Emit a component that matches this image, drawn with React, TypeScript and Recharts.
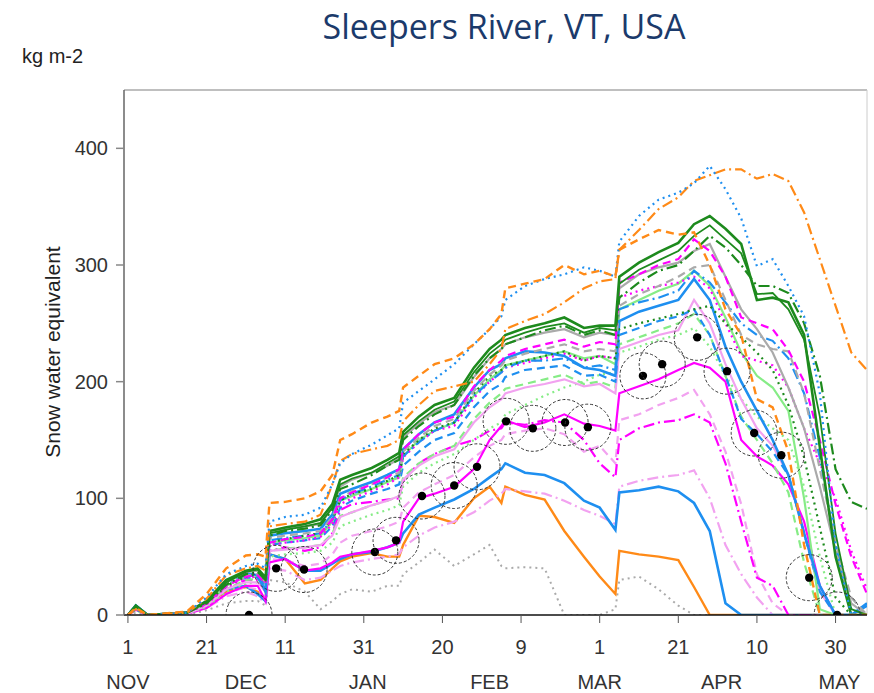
import { ComposedChart, Line, Scatter, XAxis, YAxis, ReferenceLine } from 'recharts'

// days since 1 Nov at which each series is sampled
const DAYS = [0, 2, 5, 15, 20, 25, 30, 33, 35, 36, 40, 45, 49, 52, 54, 57, 62, 66, 69, 70, 74, 78, 83, 88, 92, 95, 96, 101, 106, 111, 116, 120, 124, 125, 130, 135, 140, 144, 148, 152, 156, 160, 164, 168, 172, 176, 180, 184, 188]

const orangeDashed = [0, 6, 0, 3, 18, 40, 51, 52, 50, 96, 97, 100, 106, 120, 150, 155, 165, 170, 175, 195, 205, 215, 220, 232, 245, 258, 280, 284, 288, 300, 292, 295, 290, 313, 322, 330, 326, 328, 300, 262, 240, 185, 178, 140, 60, 0, 0, 0, 0]
const blueDotted = [0, 5, 0, 2, 15, 35, 42, 44, 40, 80, 84, 86, 92, 112, 130, 138, 146, 154, 160, 182, 192, 202, 215, 232, 245, 256, 270, 282, 288, 292, 298, 295, 290, 320, 342, 356, 362, 370, 385, 365, 340, 299, 305, 282, 256, 190, 60, 0, 0]
const orangeDashDot = [0, 5, 0, 2, 14, 34, 40, 42, 38, 76, 78, 80, 86, 112, 132, 138, 142, 145, 150, 166, 180, 192, 196, 200, 215, 228, 245, 252, 258, 268, 280, 286, 288, 313, 330, 348, 358, 372, 377, 382, 382, 374, 378, 372, 345, 305, 265, 225, 210]
const green1 = [0, 8, 0, 2, 12, 30, 38, 40, 32, 72, 75, 78, 82, 95, 116, 120, 126, 133, 139, 157, 170, 180, 186, 212, 228, 236, 240, 246, 250, 255, 246, 248, 248, 290, 302, 311, 319, 335, 342, 331, 318, 270, 272, 268, 240, 144, 50, 0, 0]
const green2 = [0, 7, 0, 2, 11, 28, 37, 39, 30, 70, 73, 76, 79, 92, 112, 117, 122, 130, 136, 154, 166, 176, 183, 208, 224, 232, 236, 242, 247, 250, 242, 246, 244, 284, 296, 304, 312, 325, 334, 322, 310, 275, 276, 262, 236, 170, 70, 5, 0]
const greenDashDot = [0, 6, 0, 2, 10, 26, 35, 37, 30, 68, 72, 74, 77, 90, 108, 112, 120, 128, 133, 150, 162, 172, 180, 205, 220, 228, 232, 238, 244, 248, 240, 244, 240, 272, 285, 295, 300, 312, 325, 315, 300, 282, 282, 276, 250, 205, 125, 97, 91]
const greenDotted = [0, 5, 0, 2, 10, 25, 33, 35, 28, 62, 65, 68, 70, 82, 98, 104, 108, 115, 120, 138, 150, 160, 165, 190, 205, 210, 214, 218, 222, 226, 218, 222, 220, 245, 250, 254, 258, 262, 265, 250, 238, 225, 210, 180, 135, 75, 15, 0, 0]
const graySolid = [0, 6, 0, 2, 11, 28, 37, 38, 30, 72, 74, 76, 78, 92, 110, 116, 122, 128, 134, 152, 164, 174, 180, 204, 220, 228, 232, 238, 242, 245, 238, 242, 240, 280, 292, 298, 302, 312, 318, 290, 262, 245, 225, 195, 160, 110, 55, 10, 0]
const grayDashed = [0, 5, 0, 2, 10, 25, 34, 35, 28, 66, 68, 70, 72, 84, 100, 106, 112, 118, 122, 140, 152, 162, 168, 192, 206, 214, 218, 224, 228, 232, 226, 228, 226, 265, 275, 282, 290, 298, 300, 270, 240, 232, 228, 226, 190, 125, 62, 15, 0]
const grayDotted = [0, 2, 0, 0, 4, 10, 12, 12, 8, 30, 28, 20, 5, 12, 18, 22, 20, 25, 25, 35, 45, 56, 42, 52, 60, 42, 40, 41, 40, 0, 0, 0, 5, 30, 33, 22, 8, 0, 0, 0, 0, 0, 0, 0, 0, 0, 0, 0, 0]
const magentaDashed = [0, 5, 0, 2, 10, 25, 33, 34, 27, 62, 65, 67, 70, 82, 100, 105, 112, 118, 125, 142, 155, 165, 170, 196, 210, 218, 222, 228, 232, 236, 230, 234, 232, 285, 292, 300, 305, 322, 312, 290, 255, 250, 245, 227, 200, 150, 95, 50, 18]
const magentaSolid = [0, 5, 0, 1, 6, 18, 25, 25, 12, 45, 48, 38, 40, 45, 50, 52, 55, 58, 62, 80, 100, 104, 110, 125, 150, 162, 167, 161, 165, 172, 164, 162, 158, 190, 196, 202, 210, 216, 212, 200, 150, 136, 128, 112, 80, 25, 0, 0, 0]
const magentaDashDot = [0, 5, 0, 1, 8, 22, 30, 30, 20, 55, 58, 55, 58, 70, 90, 95, 97, 99, 100, 115, 130, 138, 145, 150, 158, 160, 165, 163, 167, 165, 150, 130, 118, 150, 160, 165, 167, 172, 165, 130, 80, 32, 25, 0, 0, 0, 0, 0, 0]
const magentaDotted = [0, 5, 0, 2, 9, 24, 32, 33, 26, 60, 62, 64, 67, 78, 95, 100, 106, 112, 118, 135, 148, 158, 162, 186, 200, 208, 212, 216, 220, 224, 218, 222, 220, 272, 278, 282, 285, 290, 280, 250, 222, 218, 214, 195, 160, 130, 100, 55, 22]
const lightGreenSolid = [0, 6, 0, 2, 10, 25, 33, 34, 27, 62, 64, 66, 68, 80, 98, 102, 108, 114, 118, 136, 150, 158, 165, 188, 202, 210, 214, 218, 222, 226, 220, 222, 215, 262, 270, 278, 284, 295, 282, 255, 225, 205, 195, 175, 100, 5, 0, 0, 0]
const lightGreenDashed = [0, 5, 0, 1, 8, 22, 30, 31, 24, 55, 57, 58, 60, 70, 85, 88, 94, 98, 102, 118, 130, 138, 145, 168, 182, 190, 194, 198, 202, 206, 198, 200, 195, 232, 238, 244, 250, 258, 240, 205, 170, 150, 130, 105, 45, 0, 0, 0, 0]
const lightGreenDotted = [0, 4, 0, 1, 7, 20, 27, 28, 22, 50, 52, 53, 55, 62, 76, 80, 86, 90, 94, 110, 122, 130, 138, 150, 160, 165, 172, 180, 188, 195, 200, 206, 208, 225, 230, 236, 240, 246, 230, 205, 185, 170, 160, 150, 110, 50, 0, 0, 0]
const blueSolidHigh = [0, 8, 0, 2, 12, 30, 36, 34, 20, 68, 70, 72, 74, 86, 104, 108, 114, 120, 125, 142, 155, 165, 172, 195, 210, 215, 220, 226, 225, 222, 212, 210, 205, 252, 260, 265, 270, 288, 270, 230, 200, 175, 150, 120, 70, 25, 0, 0, 8]
const blueSolidLow = [0, 8, 0, 2, 10, 22, 25, 18, 12, 52, 48, 38, 38, 44, 48, 52, 54, 58, 62, 70, 86, 92, 99, 108, 118, 125, 130, 122, 120, 113, 98, 92, 73, 105, 107, 110, 106, 96, 72, 10, 0, 0, 0, 0, 0, 0, 0, 0, 10]
const blueDashed = [0, 6, 0, 2, 10, 26, 32, 32, 22, 60, 62, 64, 66, 76, 92, 98, 104, 108, 112, 128, 140, 150, 156, 178, 192, 198, 204, 210, 212, 214, 205, 206, 200, 240, 246, 252, 256, 262, 240, 205, 168, 155, 140, 120, 70, 20, 0, 0, 0]
const blueDashDot = [0, 7, 0, 2, 11, 28, 34, 33, 24, 64, 66, 68, 70, 82, 98, 104, 110, 116, 120, 136, 148, 158, 165, 188, 200, 208, 212, 218, 218, 220, 212, 214, 210, 262, 268, 272, 278, 295, 285, 268, 250, 240, 235, 220, 190, 135, 60, 5, 0]
const pinkSolid = [0, 6, 0, 1, 8, 22, 28, 28, 20, 55, 56, 58, 60, 68, 84, 88, 94, 98, 102, 116, 128, 136, 142, 165, 178, 185, 190, 195, 198, 202, 196, 198, 190, 228, 234, 240, 244, 270, 250, 215, 185, 160, 145, 120, 70, 20, 0, 0, 0]
const pinkDashed = [0, 5, 0, 1, 7, 18, 24, 22, 14, 48, 47, 42, 44, 52, 62, 68, 72, 76, 80, 92, 105, 112, 120, 135, 145, 150, 155, 158, 160, 155, 140, 145, 130, 167, 172, 180, 186, 193, 172, 140, 95, 35, 10, 0, 0, 0, 0, 0, 0]
const pinkDashDot = [0, 4, 0, 1, 6, 16, 20, 16, 10, 40, 38, 30, 32, 38, 42, 45, 48, 50, 52, 58, 68, 75, 80, 88, 98, 104, 108, 106, 104, 98, 90, 85, 78, 110, 115, 118, 120, 124, 100, 60, 35, 15, 0, 0, 0, 0, 0, 0, 0]
const orangeSolid = [0, 6, 0, 2, 10, 20, 24, 20, 14, 52, 48, 27, 30, 40, 46, 50, 53, 50, 50, 60, 85, 84, 79, 100, 110, 96, 110, 103, 99, 72, 50, 33, 18, 55, 52, 50, 47, 24, 0, 0, 0, 0, 0, 0, 0, 0, 0, 0, 0]

// observed snow water equivalent (circled dots)
const obsDays = [30.8, 37.7, 44.8, 62.8, 68.2, 74.8, 83, 88.8, 96.2, 103, 111.2, 117, 131, 135.9, 144.8, 152.4, 159.3, 166.2, 173.3, 180.4]
const obsSwe = [0, 40, 39, 54, 64, 102, 111, 127, 166, 160, 165, 161, 205, 215, 238, 209, 156, 137, 32, 0]

const dayTicks = [0, 20, 40, 60, 80, 100, 120, 140, 160, 180]
const dayLabels = ['1', '21', '11', '31', '20', '9', '1', '21', '10', '30']
const monthTicks = [0, 30, 61, 92, 120, 151, 181]
const monthLabels = ['NOV', 'DEC', 'JAN', 'FEB', 'MAR', 'APR', 'MAY']

const ORANGE = '#ff8a17'
const BLUE = '#1e8ff0'
const GREEN = '#1d8a1d'
const LGREEN = '#86ec86'
const MAGENTA = '#ff00ff'
const PINK = '#f2a2f0'
const GRAY = '#aaaaaa'

const DOT = '2 4'
const DASH = '8 5'
const DASHDOT = '11 4 2 4'

const series = [
  { name: 'grayDotted', vals: grayDotted, color: GRAY, dash: DOT, w: 2 },
  { name: 'orangeSolid', vals: orangeSolid, color: ORANGE, dash: undefined, w: 2.4 },
  { name: 'pinkDashDot', vals: pinkDashDot, color: PINK, dash: DASHDOT, w: 2.2 },
  { name: 'blueSolidLow', vals: blueSolidLow, color: BLUE, dash: undefined, w: 2.6 },
  { name: 'pinkDashed', vals: pinkDashed, color: PINK, dash: DASH, w: 2.2 },
  { name: 'magentaDashDot', vals: magentaDashDot, color: MAGENTA, dash: DASHDOT, w: 2.2 },
  { name: 'magentaSolid', vals: magentaSolid, color: MAGENTA, dash: undefined, w: 2.2 },
  { name: 'lightGreenDotted', vals: lightGreenDotted, color: LGREEN, dash: DOT, w: 2.2 },
  { name: 'lightGreenDashed', vals: lightGreenDashed, color: LGREEN, dash: DASH, w: 2.2 },
  { name: 'pinkSolid', vals: pinkSolid, color: PINK, dash: undefined, w: 2.2 },
  { name: 'blueDashed', vals: blueDashed, color: BLUE, dash: DASH, w: 2.2 },
  { name: 'lightGreenSolid', vals: lightGreenSolid, color: LGREEN, dash: undefined, w: 2.2 },
  { name: 'magentaDotted', vals: magentaDotted, color: MAGENTA, dash: DOT, w: 2.2 },
  { name: 'blueDashDot', vals: blueDashDot, color: BLUE, dash: DASHDOT, w: 2.2 },
  { name: 'blueSolidHigh', vals: blueSolidHigh, color: BLUE, dash: undefined, w: 2.6 },
  { name: 'greenDotted', vals: greenDotted, color: GREEN, dash: DOT, w: 2.2 },
  { name: 'grayDashed', vals: grayDashed, color: GRAY, dash: DASH, w: 2.2 },
  { name: 'graySolid', vals: graySolid, color: GRAY, dash: undefined, w: 2.2 },
  { name: 'magentaDashed', vals: magentaDashed, color: MAGENTA, dash: DASH, w: 2.2 },
  { name: 'greenDashDot', vals: greenDashDot, color: GREEN, dash: DASHDOT, w: 2.2 },
  { name: 'green2', vals: green2, color: GREEN, dash: undefined, w: 1.8 },
  { name: 'green1', vals: green1, color: GREEN, dash: undefined, w: 2.6 },
  { name: 'orangeDashDot', vals: orangeDashDot, color: ORANGE, dash: DASHDOT, w: 2.2 },
  { name: 'blueDotted', vals: blueDotted, color: BLUE, dash: DOT, w: 2.2 },
  { name: 'orangeDashed', vals: orangeDashed, color: ORANGE, dash: DASH, w: 2.4 },
]

const toPoints = (vals: number[]) => DAYS.map((day, i) => ({ day, v: vals[i] }))
const obsPoints = obsDays.map((day, i) => ({ day, v: obsSwe[i] }))

const FONT = "'Liberation Sans', Arial, sans-serif"

function ObsMarker(props: { cx?: number; cy?: number }) {
  const { cx = 0, cy = 0 } = props
  return (
    <g>
      <circle cx={cx} cy={cy} r={23} fill="none" stroke="#333" strokeWidth={1} strokeDasharray="3 2" />
      <circle cx={cx} cy={cy} r={4.2} fill="#000" />
    </g>
  )
}

export default function App() {
  return (
    <div style={{ position: 'absolute', left: 0, top: 0, width: 874, height: 693, background: '#fff' }}>
      <ComposedChart width={874} height={693} margin={{ top: 90, right: 7, bottom: 8, left: 64 }}>
        <XAxis
          dataKey="day"
          type="number"
          domain={[-1, 188]}
          allowDataOverflow
          ticks={dayTicks}
          interval={0}
          height={40}
          tickSize={8}
          tickMargin={17}
          tickFormatter={(d: number) => dayLabels[dayTicks.indexOf(d)] ?? ''}
          axisLine={{ stroke: '#111', strokeWidth: 1.5 }}
          tickLine={{ stroke: '#555' }}
          tick={{ fill: '#333', fontSize: 20, fontFamily: FONT }}
        />
        <XAxis
          xAxisId="month"
          dataKey="day"
          type="number"
          domain={[-1, 188]}
          allowDataOverflow
          ticks={monthTicks}
          interval={0}
          height={30}
          tickSize={0}
          tickMargin={20}
          axisLine={false}
          tickLine={false}
          tickFormatter={(d: number) => monthLabels[monthTicks.indexOf(d)] ?? ''}
          tick={{ fill: '#333', fontSize: 20, fontFamily: FONT }}
        />
        <YAxis
          type="number"
          domain={[0, 450]}
          allowDataOverflow
          ticks={[0, 100, 200, 300, 400]}
          interval={0}
          width={60}
          tickSize={8}
          tickMargin={8}
          axisLine={{ stroke: '#666', strokeWidth: 1.5 }}
          tickLine={{ stroke: '#888', strokeWidth: 1.5 }}
          tick={{ fill: '#333', fontSize: 20, fontFamily: FONT }}
        />
        <ReferenceLine y={450} stroke="#aaa" strokeWidth={1.5} />
        <ReferenceLine x={188} stroke="#ccc" strokeWidth={1} />
        {series.map((s) => (
          <Line
            key={s.name}
            data={toPoints(s.vals)}
            dataKey="v"
            type="linear"
            stroke={s.color}
            strokeWidth={s.w}
            strokeDasharray={s.dash}
            dot={false}
            activeDot={false}
            isAnimationActive={false}
          />
        ))}
        <Scatter data={obsPoints} dataKey="v" shape={ObsMarker} isAnimationActive={false} />
      </ComposedChart>
      <svg width={874} height={693} style={{ position: 'absolute', left: 0, top: 0, pointerEvents: 'none' }}>
        <text x={504} y={39} textAnchor="middle" fontSize={34} fill="#1b3a6b" fontFamily="'Comic Sans MS', 'Open Sans', sans-serif">
          Sleepers River, VT, USA
        </text>
        <text x={22} y={63} fontSize={20} fill="#222" fontFamily={FONT}>kg m-2</text>
        <text x={52} y={352} textAnchor="middle" dominantBaseline="central" fontSize={21} fill="#222" fontFamily={FONT} transform="rotate(-90 52 352)">
          Snow water equivalent
        </text>
      </svg>
    </div>
  )
}
